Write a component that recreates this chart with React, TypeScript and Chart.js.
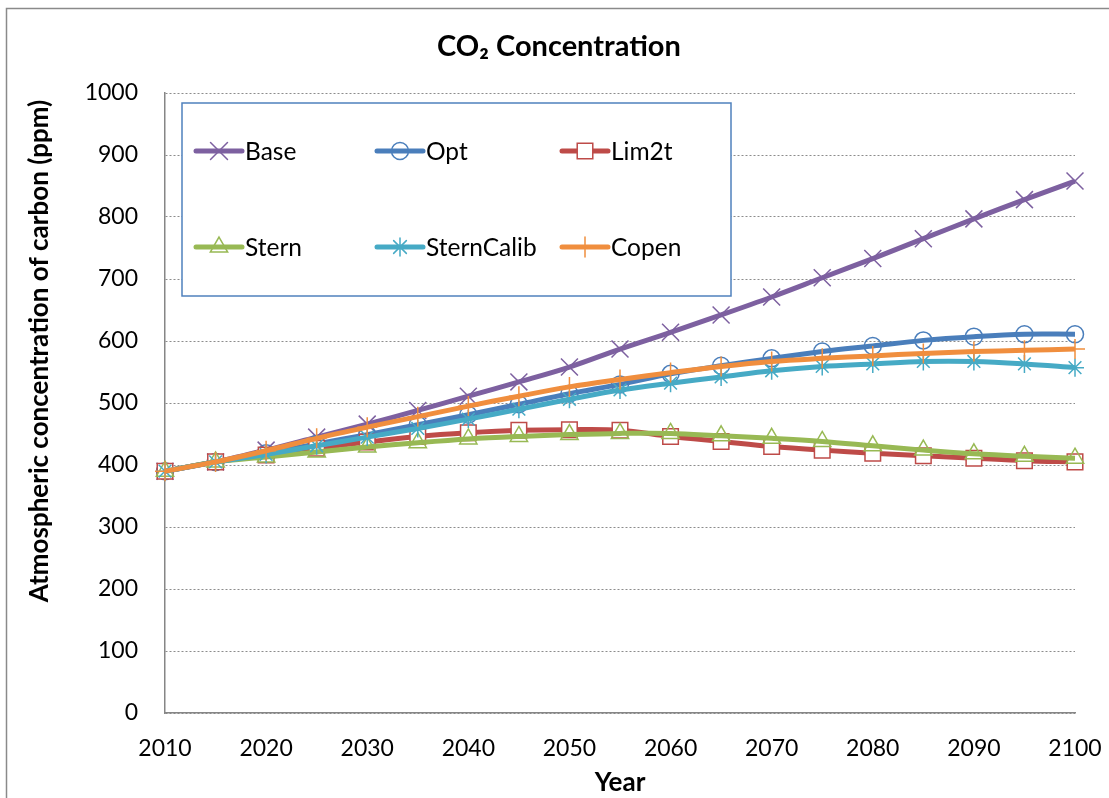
import React, { useEffect, useRef } from "react";
import { Chart, registerables } from "chart.js";

Chart.register(...registerables);

const years = [2010, 2015, 2020, 2025, 2030, 2035, 2040, 2045, 2050, 2055, 2060, 2065, 2070, 2075, 2080, 2085, 2090, 2095, 2100];
const xTicks = [2010, 2020, 2030, 2040, 2050, 2060, 2070, 2080, 2090, 2100];
const yTicks = [0, 100, 200, 300, 400, 500, 600, 700, 800, 900, 1000];

const base = [390, 405, 424, 445, 466, 488, 511, 534, 558, 587, 614, 642, 671, 702, 733, 765, 797, 828, 858];
const opt = [390, 405, 419, 434, 449, 465, 481, 498, 515, 530, 547, 560, 572, 583, 592, 601, 607, 611, 611];
const lim2t = [390, 405, 416, 427, 437, 446, 452, 456, 457, 456, 446, 438, 430, 424, 419, 415, 411, 407, 405];
const stern = [390, 405, 413, 421, 429, 436, 442, 446, 449, 451, 451, 447, 443, 438, 431, 424, 418, 414, 411];
const sternCalib = [390, 405, 417, 431, 445, 459, 474, 490, 506, 521, 532, 542, 552, 559, 563, 567, 567, 563, 557];
const copen = [390, 405, 423, 443, 461, 478, 495, 511, 526, 538, 549, 559, 567, 572, 576, 580, 583, 585, 587];

const seriesNames = ["Base", "Opt", "Lim2t", "Stern", "SternCalib", "Copen"];
const seriesData = [base, opt, lim2t, stern, sternCalib, copen];
const seriesColors = ["#7D60A0", "#4A7EBB", "#BE4B48", "#98B954", "#46AAC5", "#F08E3E"];
const seriesMarkers = ["crossRot", "circle", "rect", "triangle", "star", "cross"];
const seriesRadius = [12, 8.5, 11, 10, 9, 10];
const seriesFill = ["transparent", "transparent", "#FFFFFF", "transparent", "transparent", "transparent"];

const title = "CO\u2082 Concentration";
const yTitle = "Atmospheric concentration of carbon (ppm)";
const xTitle = "Year";

const FONT = "Lato, 'Open Sans', sans-serif";

function drawMarker(ctx: CanvasRenderingContext2D, style: string, x: number, y: number, r: number, color: string, fill: string) {
  ctx.save();
  ctx.strokeStyle = color;
  ctx.fillStyle = fill;
  ctx.lineWidth = 1.5;
  ctx.beginPath();
  const d = r * Math.SQRT1_2;
  if (style === "crossRot") {
    ctx.moveTo(x - d, y - d); ctx.lineTo(x + d, y + d);
    ctx.moveTo(x - d, y + d); ctx.lineTo(x + d, y - d);
    ctx.stroke();
  } else if (style === "circle") {
    ctx.arc(x, y, r, 0, Math.PI * 2);
    ctx.fill(); ctx.stroke();
  } else if (style === "rect") {
    ctx.rect(x - d, y - d, 2 * d, 2 * d);
    ctx.fill(); ctx.stroke();
  } else if (style === "triangle") {
    ctx.moveTo(x, y - r);
    ctx.lineTo(x + Math.sin(2 * Math.PI / 3) * r, y - Math.cos(2 * Math.PI / 3) * r);
    ctx.lineTo(x + Math.sin(4 * Math.PI / 3) * r, y - Math.cos(4 * Math.PI / 3) * r);
    ctx.closePath();
    ctx.fill(); ctx.stroke();
  } else if (style === "star") {
    ctx.moveTo(x, y - r); ctx.lineTo(x, y + r);
    ctx.moveTo(x - r, y); ctx.lineTo(x + r, y);
    ctx.moveTo(x - d, y - d); ctx.lineTo(x + d, y + d);
    ctx.moveTo(x - d, y + d); ctx.lineTo(x + d, y - d);
    ctx.stroke();
  } else if (style === "cross") {
    ctx.moveTo(x, y - r); ctx.lineTo(x, y + r);
    ctx.moveTo(x - r, y); ctx.lineTo(x + r, y);
    ctx.stroke();
  }
  ctx.restore();
}

const decorPlugin = {
  id: "decor",
  afterDraw(chart: any) {
    const ctx: CanvasRenderingContext2D = chart.ctx;
    ctx.save();
    ctx.strokeStyle = "#8A8A8A";
    ctx.lineWidth = 1.5;
    ctx.strokeRect(6.5, 8.5, 1110, 800);

    ctx.fillStyle = "#000";
    ctx.textAlign = "center";
    ctx.textBaseline = "middle";
    ctx.font = `bold 29px ${FONT}`;
    ctx.fillText(title, 559, 47);

    ctx.font = `bold 26px ${FONT}`;
    ctx.fillText(xTitle, 620, 783);

    ctx.save();
    ctx.translate(40, 351);
    ctx.rotate(-Math.PI / 2);
    ctx.fillText(yTitle, 0, 0);
    ctx.restore();

    ctx.fillStyle = "#FFFFFF";
    ctx.fillRect(182, 103, 549, 193);
    ctx.strokeStyle = "#4F81BD";
    ctx.lineWidth = 1.5;
    ctx.strokeRect(182, 103, 549, 193);

    const colX = [196, 377, 562];
    const rowY = [151, 247];
    for (let i = 0; i < seriesNames.length; i++) {
      const lx = colX[i % 3];
      const ly = rowY[Math.floor(i / 3)];
      ctx.strokeStyle = seriesColors[i];
      ctx.lineWidth = 5;
      ctx.lineCap = "round";
      ctx.beginPath();
      ctx.moveTo(lx, ly);
      ctx.lineTo(lx + 46, ly);
      ctx.stroke();
      drawMarker(ctx, seriesMarkers[i], lx + 23, ly, seriesRadius[i], seriesColors[i], seriesFill[i]);
      ctx.fillStyle = "#000";
      ctx.textAlign = "left";
      ctx.textBaseline = "middle";
      ctx.font = `24.5px ${FONT}`;
      ctx.fillText(seriesNames[i], lx + 49, ly + 1);
    }
    ctx.restore();
  },
};

export default function App() {
  const ref = useRef<HTMLCanvasElement | null>(null);
  useEffect(() => {
    if (!ref.current) return;
    const datasets = seriesNames.map((name, i) => ({
      label: name,
      data: years.map((y, j) => ({ x: y, y: seriesData[i][j] })),
      borderColor: seriesColors[i],
      backgroundColor: seriesFill[i],
      borderWidth: 5,
      tension: 0.35,
      pointStyle: seriesMarkers[i],
      pointRadius: seriesRadius[i],
      pointBorderWidth: 1.5,
      pointBorderColor: seriesColors[i],
      pointBackgroundColor: seriesFill[i],
      fill: false,
      clip: false as any,
      order: seriesNames.length - 1 - i,
    }));
    const chart = new Chart(ref.current, {
      type: "line",
      data: { datasets },
      plugins: [decorPlugin],
      options: {
        responsive: false,
        animation: false,
        layout: { padding: { top: 93, right: 34, bottom: 0, left: 0 } },
        plugins: { legend: { display: false }, title: { display: false }, tooltip: { enabled: false } },
        scales: {
          x: {
            type: "linear",
            min: 2010,
            max: 2100,
            afterBuildTicks: (s: any) => { s.ticks = xTicks.map((v) => ({ value: v })); },
            afterFit: (s: any) => { s.height = 85; s.paddingLeft = 0; s.paddingRight = 0; },
            grid: { display: false, drawTicks: false },
            border: { display: true, color: "#868686", width: 1.5 },
            ticks: { color: "#000", font: { family: FONT, size: 23 }, padding: 22, maxRotation: 0, autoSkip: false, callback: (v: any) => String(v) },
          },
          y: {
            type: "linear",
            min: 0,
            max: 1000,
            afterBuildTicks: (s: any) => { s.ticks = yTicks.map((v) => ({ value: v })); },
            afterFit: (s: any) => { s.width = 165; s.paddingTop = 0; s.paddingBottom = 0; },
            grid: { display: true, color: "#8C8C8C", lineWidth: 1, drawTicks: false },
            border: { display: true, color: "#868686", width: 1.5, dash: [2, 2] },
            ticks: { color: "#000", font: { family: FONT, size: 23 }, padding: 27, autoSkip: false, callback: (v: any) => String(v) },
          },
        },
      },
    });
    return () => chart.destroy();
  }, []);
  return (
    <div style={{ position: "fixed", left: 0, top: 0, width: 1109, height: 798, background: "#fff" }}>
      <canvas ref={ref} width={1109} height={798} style={{ display: "block" }} />
    </div>
  );
}
